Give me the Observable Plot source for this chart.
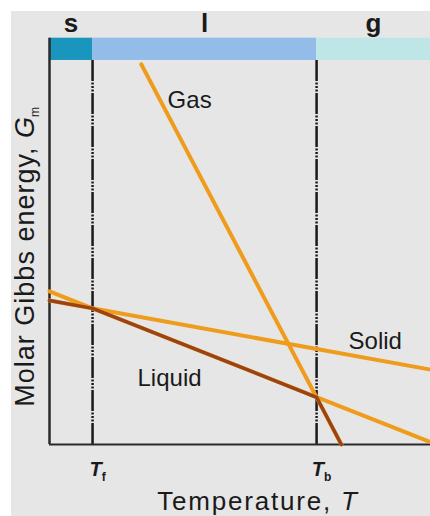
<!DOCTYPE html>
<html>
<head>
<meta charset="utf-8">
<script src="https://cdn.jsdelivr.net/npm/d3@7"></script>
<script src="https://cdn.jsdelivr.net/npm/@observablehq/plot@0.6"></script>
<style>
  html, body { margin: 0; padding: 0; background: #ffffff; }
  #box { position: absolute; left: 11px; top: 11px; width: 419px; height: 505px; background: #e6e6e6; }
  #box svg { display: block; background: transparent; }
</style>
</head>
<body>
<div id="box"></div>
<script>
// ---- data (arbitrary units: T 0..100, G 0..100) ----
const Tf = 11.3;          // melting temperature
const Tb = 70.1;          // boiling temperature
const Tmax = 100;
const Gtop = 100;         // top of drawing area (band sits above)
const Gband = 105.8;      // top of phase band

const phaseNames = ["s", "l", "g"];
const phaseStart = [0, Tf, Tb];
const phaseEnd = [Tf, Tb, Tmax];
const phaseColors = ["#1a95be", "#93bde8", "#bee6e6"];

const solidT = [0, 100];
const solidG = [37.5, 19.5];
const liquidT = [0, 100];
const liquidG = [39.9, 0.6];
const gasT = [24.1, 76.6];
const gasG = [99, 0];

// stable-phase path (minimum G)
const stableT = [0, Tf, Tb, 76.6];
const stableG = [37.5, 35.45, 12.3, 0];

const tickValues = [Tf, Tb];
const tickLabels = ["Tf", "Tb"];

const lineLabels = ["Gas", "Liquid", "Solid"];
const lineLabelT = [31.0, 23.1, 78.5];
const lineLabelG = [89.7, 17.3, 27.0];

// ---- build tables ----
const phases = phaseNames.map((p, i) => ({p, x1: phaseStart[i], x2: phaseEnd[i], c: phaseColors[i], xm: (phaseStart[i] + phaseEnd[i]) / 2}));
const toPts = (T, G, name) => T.map((t, i) => ({T: t, G: G[i], name}));
const orange = [...toPts(solidT, solidG, "solid"), ...toPts(liquidT, liquidG, "liquid"), ...toPts(gasT, gasG, "gas")];
const stable = toPts(stableT, stableG, "stable");
const labels = lineLabels.map((t, i) => ({t, T: lineLabelT[i], G: lineLabelG[i]}));
const ticks = tickValues.map((v, i) => ({v, label: tickLabels[i]}));

const FONT = "'Liberation Sans', Arial, Helvetica, sans-serif";

const chart = Plot.plot({
  width: 419,
  height: 505,
  marginLeft: 38,
  marginRight: 0,
  marginTop: 26.7,
  marginBottom: 72,
  style: {fontFamily: FONT, background: "transparent", overflow: "visible"},
  x: {domain: [0, Tmax], axis: null},
  y: {domain: [0, Gband], axis: null},
  marks: [
    Plot.rectY(phases, {x1: "x1", x2: "x2", y1: Gtop, y2: Gband, fill: "c"}),
    Plot.ruleX(tickValues, {y1: 0, y2: Gtop, stroke: "#1a1a1a", strokeWidth: 2.5, strokeDasharray: "21,1.5,2,1.5,2,1.5,2,1.5"}),
    Plot.ruleX([0], {y1: 0, y2: Gband, stroke: "#2a2a2a", strokeWidth: 2.5}),
    Plot.ruleY([0], {stroke: "#2a2a2a", strokeWidth: 2}),
    Plot.line(orange, {x: "T", y: "G", z: "name", stroke: "#ef9b1c", strokeWidth: 4}),
    Plot.line(stable, {x: "T", y: "G", stroke: "#9a4416", strokeWidth: 3.5}),
    Plot.text(labels, {x: "T", y: "G", text: "t", textAnchor: "start", fontSize: 24, fill: "#1a1a1a", style: "letter-spacing:2px"}),
    Plot.text(phases, {x: "xm", y: 109.6, text: "p", fontSize: 26, fontWeight: "bold", fill: "#1a1a1a"}),
    Plot.text(ticks, {x: "v", text: "label", frameAnchor: "bottom", lineAnchor: "middle", dy: 25, dx: 5, fontSize: 20, fill: "#1a1a1a", className: "tlab"}),
    Plot.text(["Temperature, T"], {frameAnchor: "bottom", lineAnchor: "middle", textAnchor: "middle", dy: 57, dx: 18, fontSize: 26, fill: "#1a1a1a", className: "xlab"}),
    Plot.text(["Molar Gibbs energy, Gm"], {frameAnchor: "left", lineAnchor: "middle", textAnchor: "middle", rotate: -90, dx: -24, dy: 15, fontSize: 27, fill: "#1a1a1a", className: "ylab"})
  ]
});

// rich text: italics and subscripts
const svg = d3.select(chart);
svg.selectAll(".tlab text").each(function() {
  const s = this.textContent; const t = d3.select(this); t.text("");
  t.append("tspan").attr("font-style", "italic").attr("font-weight", "bold").style("font-size", "20px").text(s[0]);
  t.append("tspan").style("font-size", "12px").attr("font-weight", "bold").attr("dy", 5).text(s.slice(1));
});
svg.selectAll(".xlab text").each(function() {
  const s = this.textContent; const t = d3.select(this); t.text("");
  t.attr("letter-spacing", "1.8px");
  t.append("tspan").text(s.slice(0, -1));
  t.append("tspan").attr("font-style", "italic").text(s.slice(-1));
});
svg.selectAll(".ylab text").each(function() {
  const s = this.textContent; const t = d3.select(this); t.text("");
  t.attr("letter-spacing", "1px");
  t.append("tspan").text(s.slice(0, -2));
  t.append("tspan").attr("font-style", "italic").text(s.slice(-2, -1));
  t.append("tspan").style("font-size", "12px").attr("dy", 5).attr("dx", -1).text(s.slice(-1));
});

document.getElementById("box").appendChild(chart);
</script>
</body>
</html>
